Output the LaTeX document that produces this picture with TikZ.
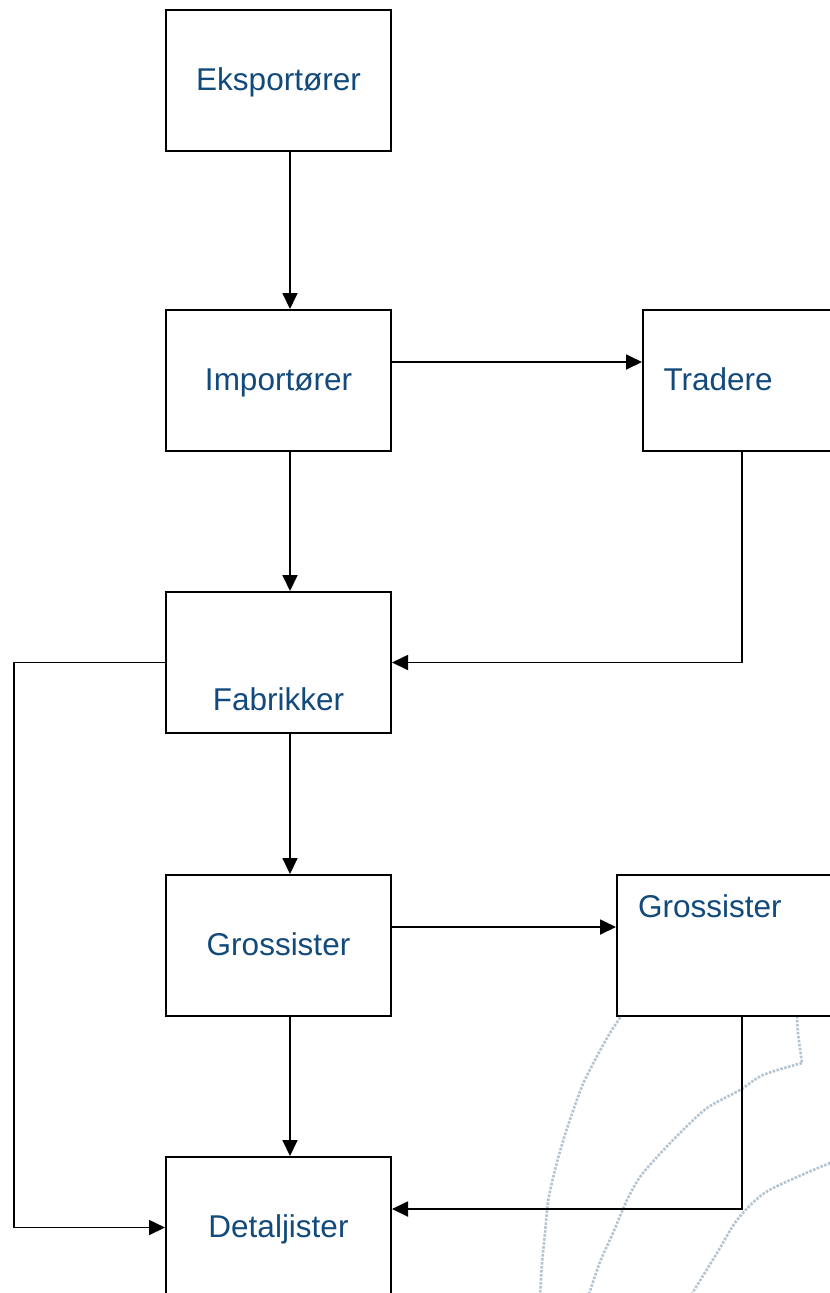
\documentclass[tikz,border=0pt]{standalone}
\usepackage{fontspec}
\setmainfont{Liberation Sans}
\usetikzlibrary{arrows.meta}
\definecolor{txtblue}{HTML}{134A7C}
\definecolor{wmark}{HTML}{B4C4D1}
\begin{document}
\begin{tikzpicture}[x=1bp,y=-1bp,
  box/.style={draw=black, line width=2bp, fill=white, rectangle, anchor=north west,
    inner xsep=0pt, inner ysep=0pt, text width=225bp, align=center,
    text height=80bp, text depth=61bp, text=txtblue,
    font=\fontsize{31.5bp}{38bp}\selectfont},
  lbox/.style={box, text width=184bp, inner xsep=20.5bp, align=left},
  conn/.style={draw=black, line width=1.8bp, -{Triangle[length=16bp,width=15bp]}},
  wm/.style={draw=wmark, line width=2.6bp, dash pattern=on 2.5bp off 1.5bp}]
\clip (0,0) rectangle (830,1293);
\fill[white] (0,0) rectangle (830,1293);
% watermark arcs
\draw[wm] plot[smooth] coordinates {(630,1000) (621.7,1015) (610,1033) (596.7,1056.7) (583.3,1083.3) (573.3,1110) (563.3,1140) (555,1170) (548.3,1200) (545,1233) (541.7,1267) (540,1300)};
\draw[wm] plot[smooth] coordinates {(796,1000) (797,1015) (798,1033) (802,1063)};
\draw[wm] plot[smooth] coordinates {(802,1063) (763,1075) (740,1090) (707,1108) (680,1133) (657,1157) (640,1177) (627,1200) (613,1233) (600,1262) (587,1300)};
\draw[wm] plot[smooth] coordinates {(845,1157) (830,1163) (797,1177) (763,1194) (737,1220) (717,1253) (688,1300)};
% nodes
\node[box] (eks) at (165,9) {Eksportører};
\node[box] (imp) at (165,309) {Importører};
\node[lbox] (tra) at (642,309) {Tradere};
\node[box, text height=118bp, text depth=23bp] (fab) at (165,591) {Fabrikker};
\node[box] (gro) at (165,874) {Grossister};
\node[lbox, text height=42bp, text depth=99bp, inner xsep=21bp, text width=183bp] (gro2) at (616,874) {Grossister};
\node[box] (det) at (165,1156) {Detaljister};
% helper coordinates
\coordinate (ccol) at (290,0);
\coordinate (tcol) at (742,0);
\coordinate (lcol) at (14,0);
\coordinate (row1) at (0,362);
\coordinate (row2) at (0,927);
\coordinate (row3) at (0,1209);
% connectors
\draw[conn] (eks.south -| ccol) -- (imp.north -| ccol);
\draw[conn] (imp.east |- row1) -- (tra.west |- row1);
\draw[conn] (imp.south -| ccol) -- (fab.north -| ccol);
\draw[conn] (tra.south -| tcol) |- (fab.east);
\draw[conn] (fab.west) -- (fab.west -| lcol) |- (det.west);
\draw[conn] (fab.south -| ccol) -- (gro.north -| ccol);
\draw[conn] (gro.east |- row2) -- (gro2.west |- row2);
\draw[conn] (gro.south -| ccol) -- (det.north -| ccol);
\draw[conn] (gro2.south -| tcol) |- (det.east |- row3);
\end{tikzpicture}
\end{document}
